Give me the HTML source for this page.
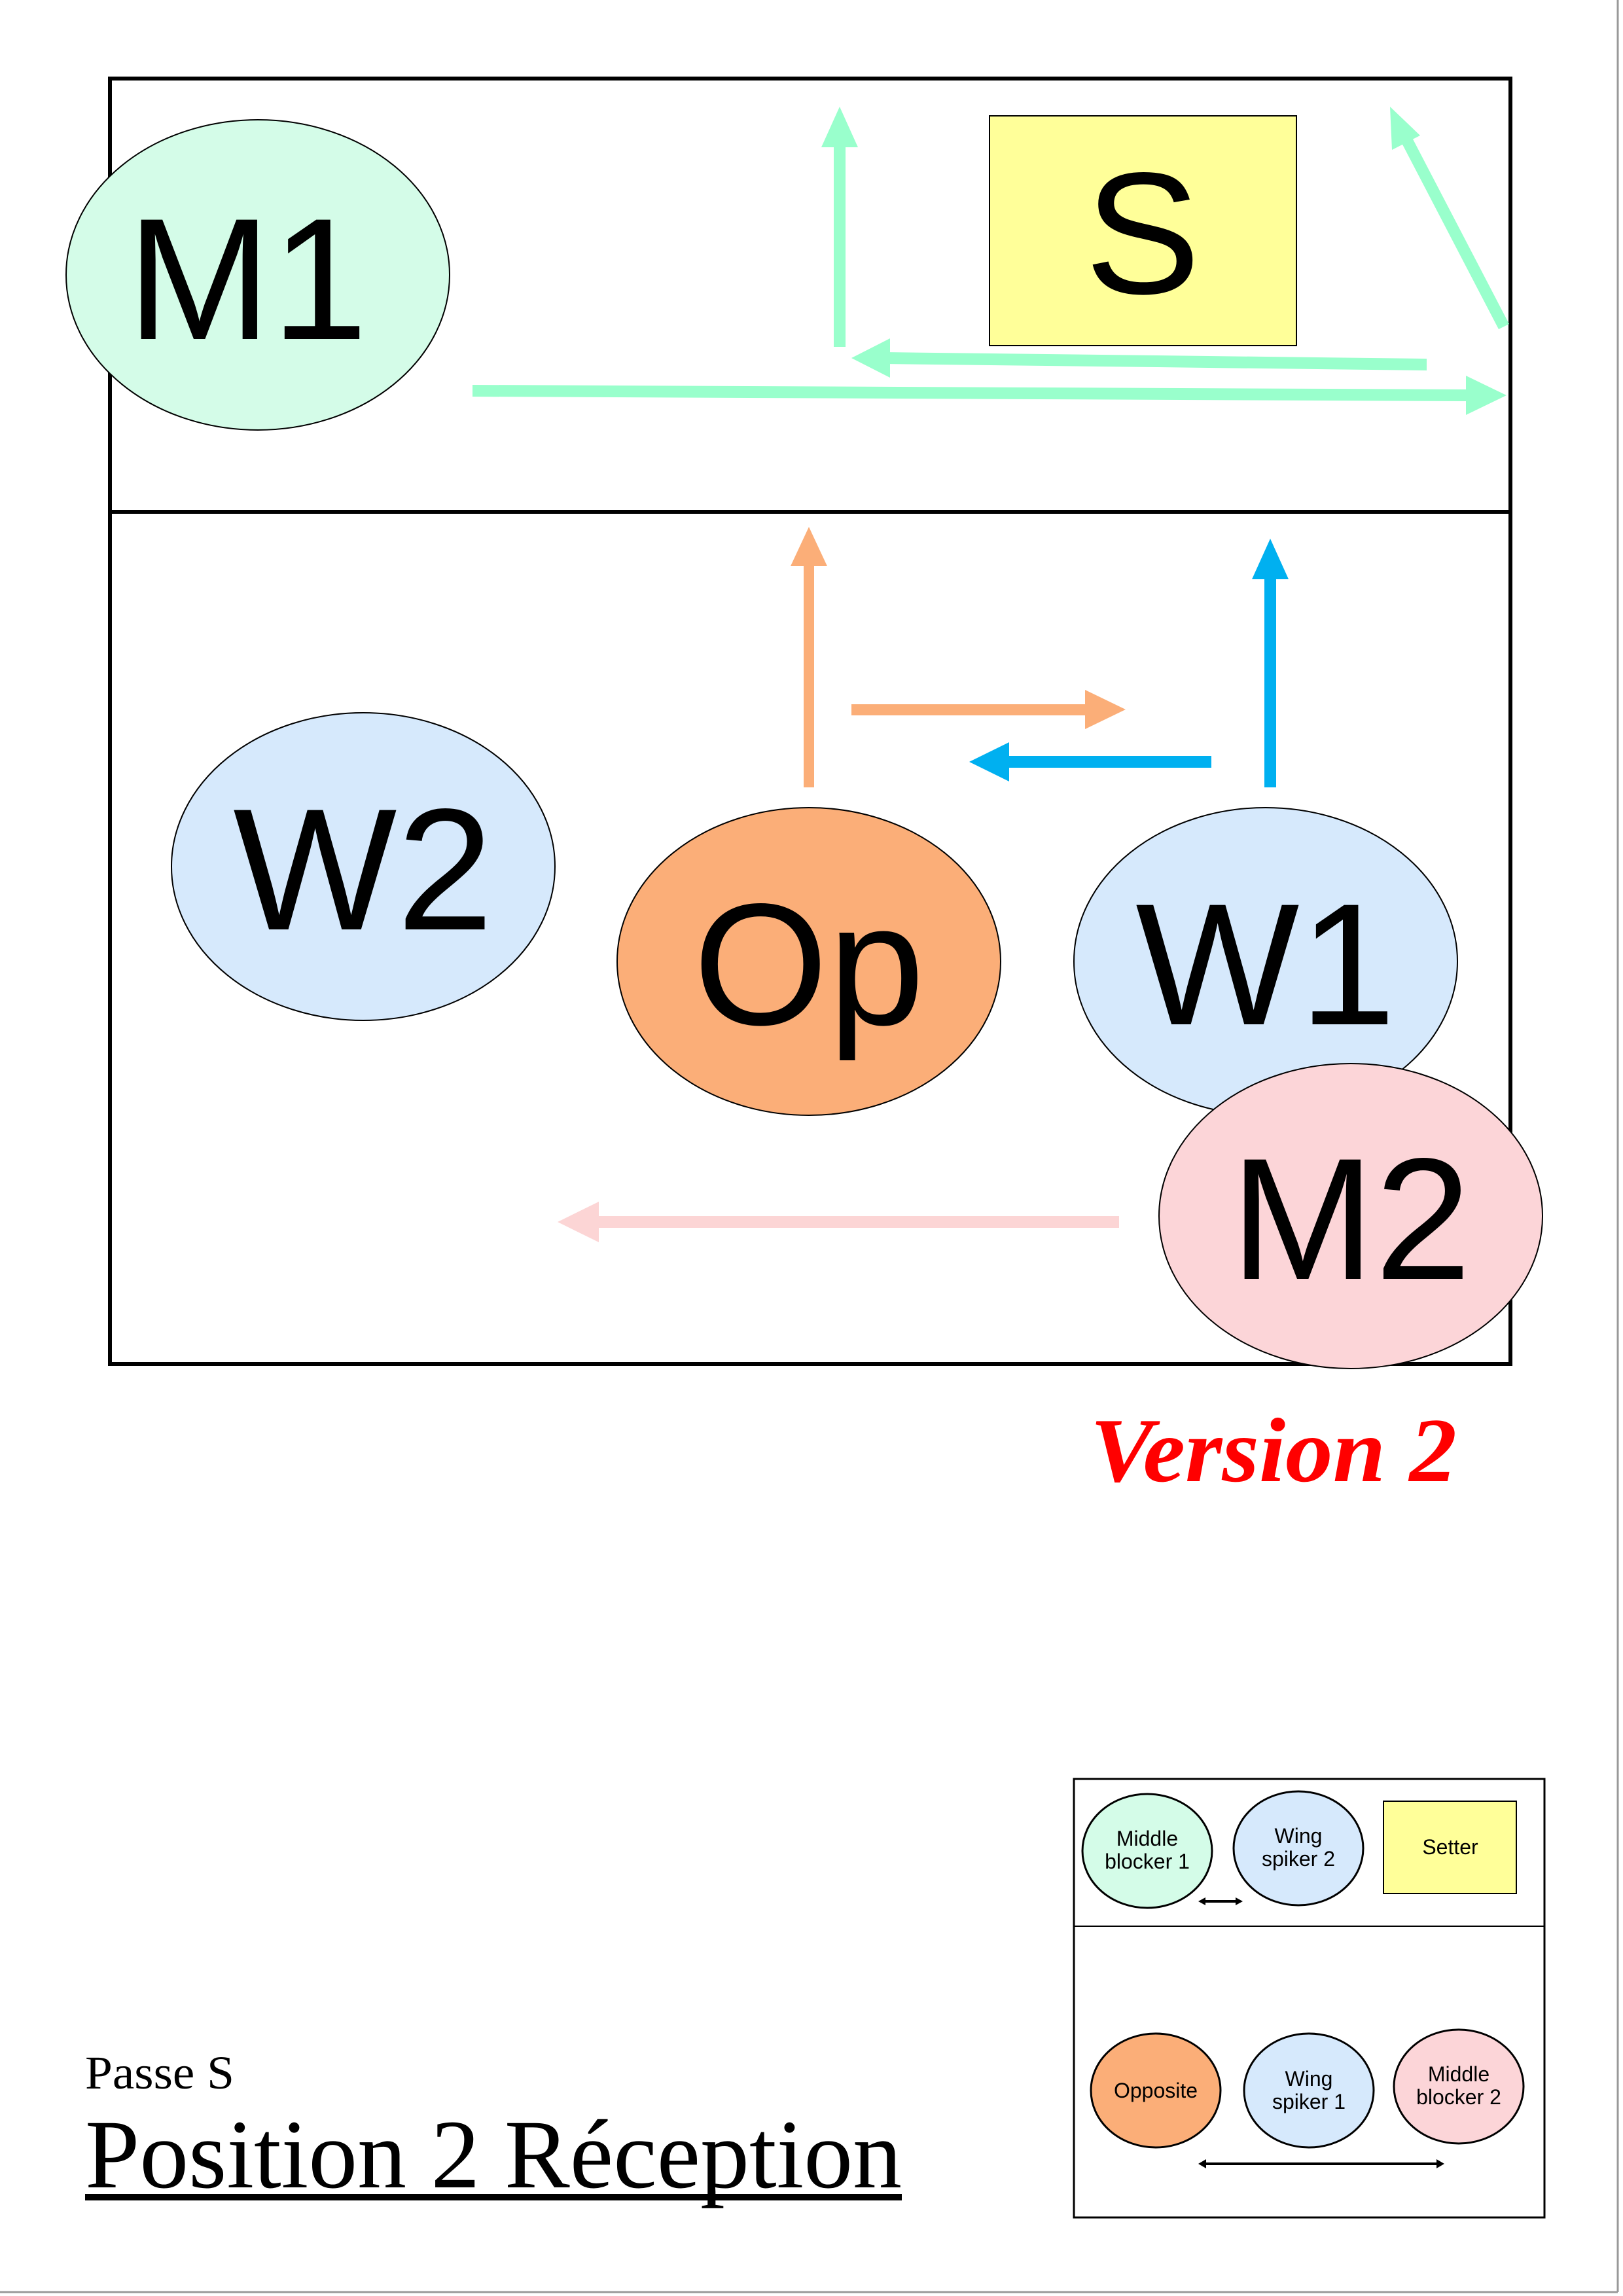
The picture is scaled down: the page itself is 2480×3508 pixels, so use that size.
<!DOCTYPE html>
<html><head><meta charset="utf-8"><style>
html,body{margin:0;padding:0;background:#fff}
svg{display:block}
.sans{font-family:"Liberation Sans",Arial,sans-serif}
.serif{font-family:"Liberation Serif","Times New Roman",serif}
</style></head><body>
<svg width="2480" height="3508" viewBox="0 0 2480 3508" xmlns="http://www.w3.org/2000/svg">
<rect x="0" y="0" width="2480" height="3508" fill="#fff"/>
<line x1="2472" y1="0" x2="2472" y2="3502" stroke="#999" stroke-width="3"/>
<line x1="0" y1="3502" x2="2472" y2="3502" stroke="#999" stroke-width="3"/>

<rect x="168" y="120" width="2140" height="1964" fill="none" stroke="#000" stroke-width="6"/>
<line x1="168" y1="782" x2="2308" y2="782" stroke="#000" stroke-width="6"/>

<g fill="#99FFCC" stroke="none">
<rect x="1274" y="220" width="18" height="310"/>
<polygon points="1283,163 1255,225 1311,225"/>
<polygon points="2180,548 1350,538 1350,556 2180,566"/>
<polygon points="1301,547 1360,517 1360,577"/>
<polygon points="722,588 2240,595 2240,613 722,606"/>
<polygon points="2302,604 2240,574 2240,634"/>
<polygon points="2290,503 2306,495 2155,205 2139,213"/>
<polygon points="2124,163 2127,229 2170,207"/>
</g>
<rect x="1512" y="177" width="469" height="351" fill="#FFFF99" stroke="#000" stroke-width="2"/>
<text x="1746" y="448" text-anchor="middle" class="sans" font-size="265">S</text>

<ellipse cx="394" cy="420" rx="293" ry="237" fill="#D4FCE8" stroke="#000" stroke-width="2"/>
<text x="378" y="518" text-anchor="middle" class="sans" font-size="265">M1</text>

<g fill="#FBAE78">
<rect x="1228" y="860" width="16" height="343"/>
<polygon points="1236,805 1208,865 1264,865"/>
<rect x="1301" y="1076" width="360" height="17"/>
<polygon points="1720,1084 1658,1054 1658,1114"/>
</g>
<g fill="#00B0F0">
<rect x="1535" y="1155" width="316" height="18"/>
<polygon points="1481,1164 1542,1134 1542,1194"/>
<rect x="1932" y="880" width="18" height="323"/>
<polygon points="1941,823 1913,885 1969,885"/>
</g>
<g fill="#FCD5D5">
<rect x="910" y="1858" width="800" height="18"/>
<polygon points="852,1867 915,1836 915,1898"/>
</g>

<ellipse cx="555" cy="1324" rx="293" ry="235" fill="#D6E9FC" stroke="#000" stroke-width="2"/>
<text x="555" y="1420" text-anchor="middle" class="sans" font-size="265">W2</text>
<ellipse cx="1236" cy="1469" rx="293" ry="235" fill="#FBAE78" stroke="#000" stroke-width="2"/>
<text x="1236" y="1565" text-anchor="middle" class="sans" font-size="265">Op</text>
<ellipse cx="1934" cy="1469" rx="293" ry="235" fill="#D6E9FC" stroke="#000" stroke-width="2"/>
<text x="1934" y="1565" text-anchor="middle" class="sans" font-size="265">W1</text>
<ellipse cx="2064" cy="1858" rx="293" ry="233" fill="#FCD5D8" stroke="#000" stroke-width="2"/>
<text x="2064" y="1954" text-anchor="middle" class="sans" font-size="265">M2</text>

<text x="1666" y="2263" class="serif" font-size="140" font-weight="bold" font-style="italic" fill="#FF0000" textLength="560" lengthAdjust="spacingAndGlyphs">Version 2</text>

<text x="130" y="3191" class="serif" font-size="72" textLength="228" lengthAdjust="spacingAndGlyphs">Passe S</text>
<text x="130" y="3342" class="serif" font-size="150" textLength="1248" lengthAdjust="spacingAndGlyphs">Position 2 Réception</text>
<rect x="130" y="3352" width="1248" height="10" fill="#000"/>

<rect x="1641" y="2718" width="719" height="670" fill="#fff" stroke="#000" stroke-width="3"/>
<line x1="1641" y1="2943" x2="2360" y2="2943" stroke="#000" stroke-width="2"/>
<g class="sans" font-size="32" text-anchor="middle" stroke="#000" stroke-width="3">
<ellipse cx="1753" cy="2828" rx="99" ry="87" fill="#D4FCE8"/>
<ellipse cx="1984" cy="2824" rx="99" ry="87" fill="#D6E9FC"/>
<rect x="2114" y="2752" width="203" height="141" fill="#FFFF99" stroke-width="2"/>
<ellipse cx="1766" cy="3194" rx="99" ry="87" fill="#FBAE78"/>
<ellipse cx="2000" cy="3194" rx="99" ry="87" fill="#D6E9FC"/>
<ellipse cx="2229" cy="3188" rx="99" ry="87" fill="#FCD5D8"/>
</g>
<g class="sans" font-size="32" text-anchor="middle" fill="#000">
<text x="1753" y="2820">Middle</text><text x="1753" y="2855">blocker 1</text>
<text x="1984" y="2816">Wing</text><text x="1984" y="2851">spiker 2</text>
<text x="2216" y="2833">Setter</text>
<text x="1766" y="3205">Opposite</text>
<text x="2000" y="3187">Wing</text><text x="2000" y="3222">spiker 1</text>
<text x="2229" y="3180">Middle</text><text x="2229" y="3215">blocker 2</text>
</g>
<g fill="#000">
<rect x="1838" y="2903" width="54" height="4"/>
<polygon points="1831,2905 1842,2899 1842,2911"/>
<polygon points="1899,2905 1888,2899 1888,2911"/>
<rect x="1838" y="3304" width="362" height="4"/>
<polygon points="1831,3306 1843,3299 1843,3313"/>
<polygon points="2207,3306 2195,3299 2195,3313"/>
</g>
</svg>
</body></html>
